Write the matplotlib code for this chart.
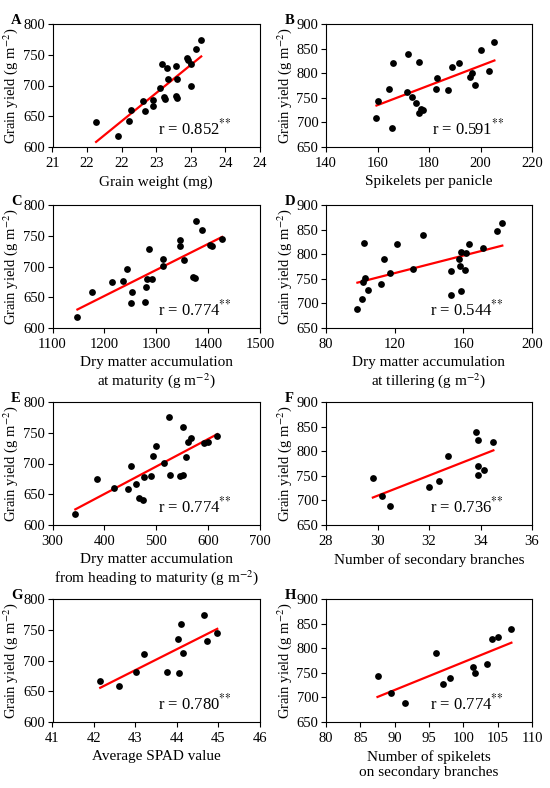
#!/usr/bin/env python
import numpy as np
import matplotlib
matplotlib.use("Agg")
import matplotlib.pyplot as plt

plt.rcParams['font.family'] = ['Liberation Serif', 'DejaVu Serif']
plt.rcParams['mathtext.fontset'] = 'stix'

# panel A - grain weight
a_x = [21.63, 21.95, 22.10, 22.13, 22.31, 22.34, 22.45, 22.46, 22.56, 22.59, 22.61, 22.63,
       22.65, 22.67, 22.78, 22.79, 22.80, 22.80, 22.95, 22.96, 23.00, 23.00, 23.08, 23.15]
a_y = [640, 618, 643, 660, 674, 658, 677, 667, 696, 735, 681, 678,
       728, 711, 732, 683, 710, 680, 745, 741, 735, 700, 760, 774]

# panel B - spikelets per panicle
b_x = [159.6, 160.2, 164.6, 165.5, 166.1, 171.3, 171.7, 173.5, 175.0, 176.1, 176.1, 177.0,
       177.6, 183.1, 182.8, 187.5, 189.1, 191.8, 195.8, 196.8, 197.8, 200.0, 203.3, 205.4]
b_y = [709, 744, 767, 689, 820, 761, 840, 751, 739, 823, 719, 727,
       725, 791, 768, 766, 812, 821, 793, 801, 776, 847, 805, 863]

# panel C - dry matter at maturity
c_x = [1148, 1176, 1214, 1235, 1243, 1253, 1252, 1278, 1280, 1282, 1286, 1292,
       1313, 1313, 1345, 1345, 1354, 1371, 1375, 1377, 1389, 1403, 1408, 1427]
c_y = [618, 659, 674, 677, 696, 658, 640, 643, 667, 680, 729, 680,
       712, 701, 743, 734, 710, 683, 682, 774, 760, 735, 733, 745]

# panel D - dry matter at tillering
d_x = [98.3, 100.8, 101.7, 102.5, 102.1, 104.5, 112.0, 114.0, 117.5, 121.2, 130.9, 136.5,
       152.8, 152.8, 157.5, 158.0, 158.8, 158.8, 161.2, 161.7, 163.3, 171.3, 179.6, 182.7]
d_y = [688, 708, 744, 751, 823, 727, 739, 790, 761, 820, 769, 840,
       765, 718, 791, 775, 805, 725, 768, 802, 820, 813, 847, 863]

# panel E - dry matter heading to maturity
e_x = [344, 386, 418, 445, 452, 460, 466, 474, 477, 490, 493, 500,
       515, 525, 527, 546, 551, 552, 557, 562, 567, 592, 599, 618]
e_y = [618, 674, 660, 658, 696, 667, 644, 641, 678, 680, 712, 728,
       701, 775, 682, 680, 681, 760, 710, 735, 742, 733, 735, 745]

# panel F - secondary branches
f_x = [29.82, 30.17, 30.50, 31.99, 32.37, 32.75, 33.81, 33.90, 33.90, 33.90, 34.15, 34.50]
f_y = [745, 709, 689, 728, 739, 791, 840, 823, 769, 751, 762, 819]

# panel G - SPAD
g_x = [42.15, 42.60, 43.02, 43.21, 43.77, 44.02, 44.04, 44.10, 44.15, 44.66, 44.72, 44.97]
g_y = [667, 658, 682, 710, 681, 735, 679, 760, 712, 774, 732, 744]

# panel H - spikelets on secondary branches
h_x = [87.5, 89.5, 91.5, 96.0, 97.0, 98.0, 101.4, 101.7, 103.4, 104.2, 105.1, 107.0]
h_y = [744, 709, 689, 790, 728, 739, 761, 750, 768, 819, 823, 839]

ylab = 'Grain yield (g m$^{-2}$)'

panels = [
    ('A', a_x, a_y, 'Grain weight (mg)', 'r = 0.852', (21, 24), np.arange(21, 24.01, 0.5),
     ['21', '22', '22', '23', '23', '24', '24'], (600, 800), [600, 650, 700, 750, 800]),
    ('B', b_x, b_y, 'Spikelets per panicle', 'r = 0.591', (140, 220), [140, 160, 180, 200, 220],
     None, (650, 900), [650, 700, 750, 800, 850, 900]),
    ('C', c_x, c_y, 'Dry matter accumulation\nat maturity (g m$^{-2}$)', 'r = 0.774', (1100, 1500),
     [1100, 1200, 1300, 1400, 1500], None, (600, 800), [600, 650, 700, 750, 800]),
    ('D', d_x, d_y, 'Dry matter accumulation\nat tillering (g m$^{-2}$)', 'r = 0.544', (80, 200),
     [80, 120, 160, 200], None, (650, 900), [650, 700, 750, 800, 850, 900]),
    ('E', e_x, e_y, 'Dry matter accumulation\nfrom heading to maturity (g m$^{-2}$)', 'r = 0.774',
     (300, 700), [300, 400, 500, 600, 700], None, (600, 800), [600, 650, 700, 750, 800]),
    ('F', f_x, f_y, 'Number of secondary branches', 'r = 0.736', (28, 36), [28, 30, 32, 34, 36],
     None, (650, 900), [650, 700, 750, 800, 850, 900]),
    ('G', g_x, g_y, 'Average SPAD value', 'r = 0.780', (41, 46), [41, 42, 43, 44, 45, 46],
     None, (600, 800), [600, 650, 700, 750, 800]),
    ('H', h_x, h_y, 'Number of spikelets\non secondary branches', 'r = 0.774', (80, 110),
     [80, 85, 90, 95, 100, 105, 110], None, (650, 900), [650, 700, 750, 800, 850, 900]),
]

W, H = 550, 788
fig = plt.figure(figsize=(W / 100, H / 100), dpi=100)

tops = [24, 205, 402, 599]
lefts = [52.5, 326]
widths = [207.5, 206]
ax_h = 123

for i, (letter, x, y, xlab, rtxt, xlim, xticks, xtl, ylim, yticks) in enumerate(panels):
    row, col = i // 2, i % 2
    ax = fig.add_axes([lefts[col] / W, 1 - (tops[row] + ax_h) / H, widths[col] / W, ax_h / H])
    ax.scatter(x, y, s=24, color='black', zorder=3, linewidths=0)
    k, b = np.polyfit(x, y, 1)
    xx = np.array([min(x), max(x)])
    ax.plot(xx, k * xx + b, color='red', lw=1.6, zorder=2)
    ax.set_xlim(*xlim)
    ax.set_ylim(*ylim)
    ax.set_xticks(xticks)
    if xtl is not None:
        ax.set_xticklabels(xtl)
    ax.set_yticks(yticks)
    ax.tick_params(axis='x', direction='out', length=3.5, width=0.8, labelsize=10.5, pad=3.5)
    ax.tick_params(axis='y', direction='out', length=3.5, width=0.8, labelsize=10.5, pad=2)
    for sp in ax.spines.values():
        sp.set_linewidth(0.8)
    ax.set_xlabel(xlab, fontsize=11, labelpad=4, linespacing=1.15)
    ax.set_ylabel(ylab, fontsize=10.5)
    ax.yaxis.set_label_coords(-0.155, 0.5)
    ax.text(0.865, 0.07, rtxt + '$^{*{*}}$', transform=ax.transAxes, ha='right', va='bottom',
            fontsize=12)
    ax.text(-0.2, 1.025, letter, transform=ax.transAxes, ha='left', va='center',
            fontsize=10.5, fontweight='bold')

fig.savefig('out.png', dpi=100)
